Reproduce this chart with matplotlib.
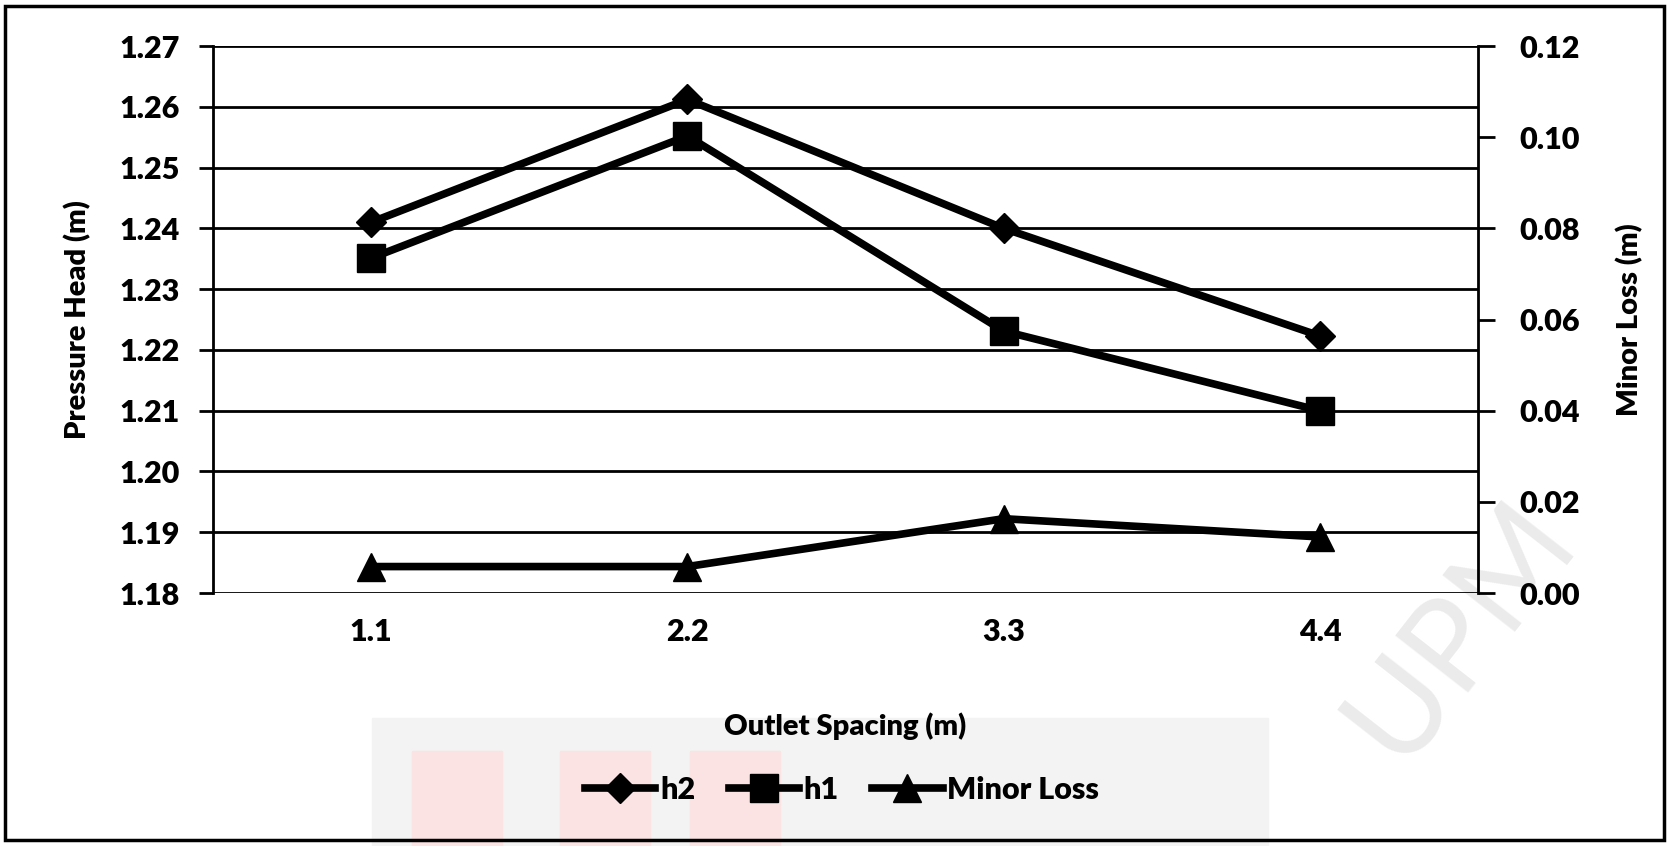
import matplotlib
matplotlib.use("Agg")
import matplotlib.pyplot as plt
from matplotlib.patches import Rectangle

plt.rcParams['font.family'] = ['Lato', 'DejaVu Sans']
plt.rcParams['font.weight'] = 'heavy'

# data
spacing = ['1.1', '2.2', '3.3', '4.4']
h2 = [1.241, 1.2612, 1.240, 1.2223]
h1 = [1.2351, 1.2552, 1.2231, 1.2100]
minor_loss = [0.0058, 0.0058, 0.0163, 0.0123]

left_ticks = [1.18, 1.19, 1.20, 1.21, 1.22, 1.23, 1.24, 1.25, 1.26, 1.27]
right_ticks = [0.00, 0.02, 0.04, 0.06, 0.08, 0.10, 0.12]

W, H = 1673, 846
fig = plt.figure(figsize=(W / 100, H / 100), dpi=100)

# faint watermark behind everything
fig.patches.append(Rectangle((372 / W, 0), (1268 - 372) / W, 128 / H,
                             transform=fig.transFigure, color='#f3f3f3', zorder=-5))
for x0, w0 in [(412, 90), (560, 90), (690, 90)]:
    fig.patches.append(Rectangle((x0 / W, 0), w0 / W, 95 / H,
                                 transform=fig.transFigure, color='#fbe3e3', zorder=-4))
fig.text(1460 / W, 1 - 630 / H, 'UPM', fontsize=92, color='#ebebeb', rotation=52,
         ha='center', va='center', zorder=-4, fontweight='normal')

ax = fig.add_axes([213 / W, 1 - 593 / H, (1478 - 213) / W, (593 - 46) / H])
ax.patch.set_alpha(0)
ax2 = ax.twinx()

x = list(range(len(spacing)))
lw = 5.5
ax.plot(x, h2, color='black', lw=lw, marker='D', ms=15, zorder=5, label='h2')
ax.plot(x, h1, color='black', lw=lw, marker='s', ms=20, zorder=5, label='h1')
ax2.plot(x, minor_loss, color='black', lw=lw, marker='^', ms=20, zorder=5,
         label='Minor Loss')

ax.set_xlim(-0.5, len(spacing) - 0.5)
ax.set_ylim(1.18, 1.27)
ax.set_yticks(left_ticks)
ax.set_yticklabels([f'{v:.2f}' for v in left_ticks])
ax2.set_ylim(0, 0.12)
ax2.set_yticks(right_ticks)
ax2.set_yticklabels([f'{v:.2f}' for v in right_ticks])
ax.set_xticks(x)
ax.set_xticklabels(spacing)

ax.grid(axis='y', color='black', lw=2)
ax.set_axisbelow(True)
for a in (ax, ax2):
    for s in a.spines.values():
        s.set_visible(False)
ax.spines['left'].set_visible(True)
ax.spines['left'].set_linewidth(2)
ax2.spines['right'].set_visible(True)
ax2.spines['right'].set_linewidth(2)

ax.tick_params(axis='y', labelsize=22, length=10, width=2, pad=14)
ax.tick_params(axis='x', labelsize=22, length=0, pad=18)
ax2.tick_params(axis='y', labelsize=22, length=12, width=2, pad=18)

ax.set_xlabel('Outlet Spacing (m)', fontsize=21, fontweight='heavy', labelpad=48)
ax.set_ylabel('Pressure Head (m)', fontsize=21, fontweight='heavy', labelpad=20)
ax2.set_ylabel('Minor Loss (m)', fontsize=21, fontweight='heavy', labelpad=26)

handles = ax.get_lines() + ax2.get_lines()
fig.legend(handles, [h.get_label() for h in handles], loc='center',
           bbox_to_anchor=(842 / W, 1 - 790 / H), ncol=3, frameon=False,
           handlelength=2.3, handletextpad=0.15, columnspacing=1.1,
           prop={'weight': 'heavy', 'size': 22})

# outer border
fig.patches.append(Rectangle((5 / W, 1 - 840 / H), (1664 - 5) / W, (840 - 6) / H,
                             transform=fig.transFigure, fill=False,
                             edgecolor='black', lw=2.5))

fig.savefig('out.png', dpi=100)
